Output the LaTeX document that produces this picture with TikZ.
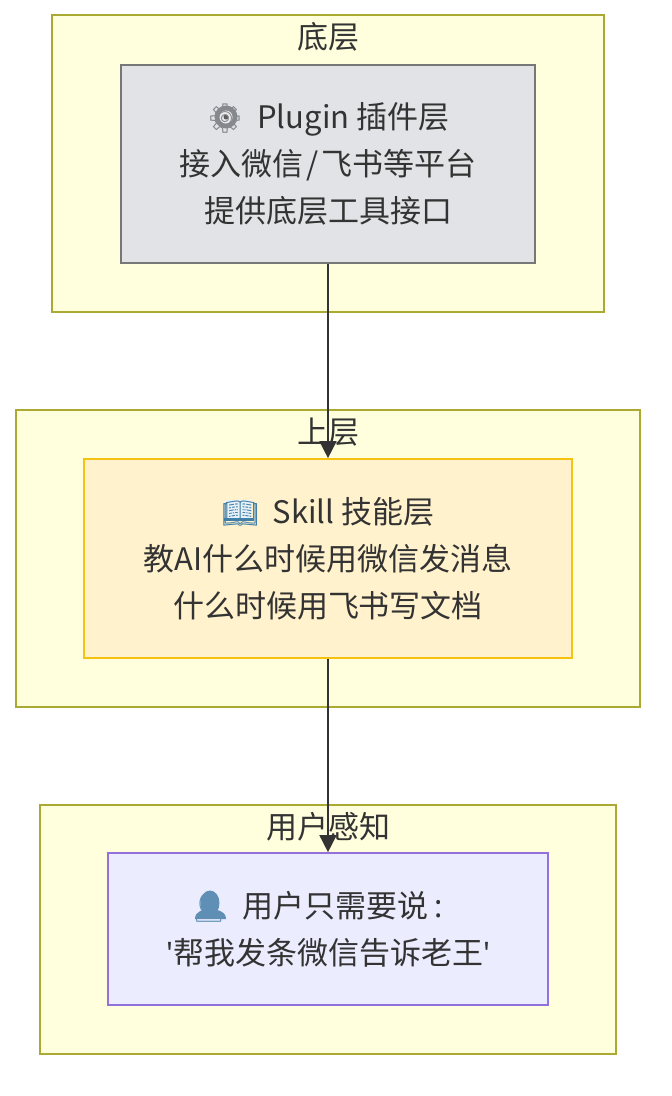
\documentclass[tikz,border=0pt]{standalone}
\usepackage{fontspec}
\usetikzlibrary{arrows.meta}
\setmainfont{Noto Sans CJK SC}
\newfontfamily\emojifont{Noto Emoji}
\newfontfamily\quotefont{Noto Sans}
\definecolor{ink}{HTML}{333333}
\definecolor{clusterfill}{HTML}{FFFFDE}
\definecolor{clusterline}{HTML}{AAAA33}
\definecolor{gearfill}{HTML}{E2E3E6}
\definecolor{gearline}{HTML}{777777}
\definecolor{bookfill}{HTML}{FFF2CC}
\definecolor{bookline}{HTML}{F5C211}
\definecolor{userfill}{HTML}{ECECFF}
\definecolor{userline}{HTML}{9370DB}
\definecolor{gearicon}{HTML}{85888C}
\definecolor{bookicon}{HTML}{3F7FA8}
\definecolor{usericon}{HTML}{5F8FB5}
\definecolor{pageface}{HTML}{E8F1F7}
\newcommand{\emo}[2]{{\color{#1}\emojifont\fontsize{29}{47}\selectfont #2}}
\newcommand{\squote}{{\quotefont\symbol{39}}}
\tikzset{
  x=1pt,y=-1pt,
  cluster/.style={draw=clusterline,fill=clusterfill,line width=1.6pt},
  title/.style={text=ink,font=\fontsize{31}{36}\selectfont,inner sep=0pt},
  box/.style={line width=1.7pt,inner sep=0pt},
  boxtext/.style={text=ink,align=center,inner sep=0pt,font=\fontsize{31}{47}\selectfont},
  link/.style={draw=ink,line width=1.7pt,-{Triangle[length=17pt,width=17pt]}},
}
\begin{document}
\begin{tikzpicture}
\useasboundingbox (0,0) rectangle (672,1096);
\fill[white] (0,0) rectangle (672,1096);
\path[cluster] (52,15) rectangle (604,312);
\path[cluster] (16,410) rectangle (640,707);
\path[cluster] (40,805) rectangle (616,1054);
\node[title] (t1) at (328,37) {底层};
\node[title] (t2) at (328,432) {上层};
\node[title] (t3) at (328,827) {用户感知};
\node[box,draw=gearline,fill=gearfill,minimum width=414pt,minimum height=198pt] (plugin) at (328,164) {};
\node[box,draw=bookline,fill=bookfill,minimum width=488pt,minimum height=199pt] (skill) at (328,558.5) {};
\node[box,draw=userline,fill=userfill,minimum width=440pt,minimum height=152pt] (user) at (328,929) {};
% icon bodies under the emoji glyphs
\fill[gearicon] (226,117) circle[radius=11.5];
\fill[gearfill!70!white] (226,117) circle[radius=6.5];
\fill[ink!80!white] (226,117) circle[radius=2.5];
\fill[pageface] (226,500) rectangle (252,518);
\fill[bookicon] (224,518) rectangle (254,521);
\fill[usericon] (210,903) ellipse[x radius=9.5,y radius=12.5];
\fill[usericon] (195,919) .. controls (195,911) and (203,910) .. (210,908)
  .. controls (217,910) and (226,911) .. (226,919) -- cycle;
\node[boxtext] (plugintext) at (plugin.center)
  {\emo{gearicon}{⚙}\hspace{14pt}Plugin 插件层\\接入微信\hspace{2.5pt}/\hspace{2.5pt}飞书等平台\\提供底层工具接口};
\node[boxtext] (skilltext) at (skill.center)
  {\emo{bookicon}{📖}\hspace{14pt}Skill 技能层\\教AI什么时候用微信发消息\\什么时候用飞书写文档};
\node[boxtext] (usertext) at (user.center)
  {\emo{usericon}{👤}\hspace{15pt}用户只需要说\hspace{6pt}{\quotefont:}\rule{23pt}{0pt}\\\squote 帮我发条微信告诉老王\squote};
\draw[link] (plugin.south) -- (skill.north);
\draw[link] (skill.south) -- (user.north);
\end{tikzpicture}
\end{document}
